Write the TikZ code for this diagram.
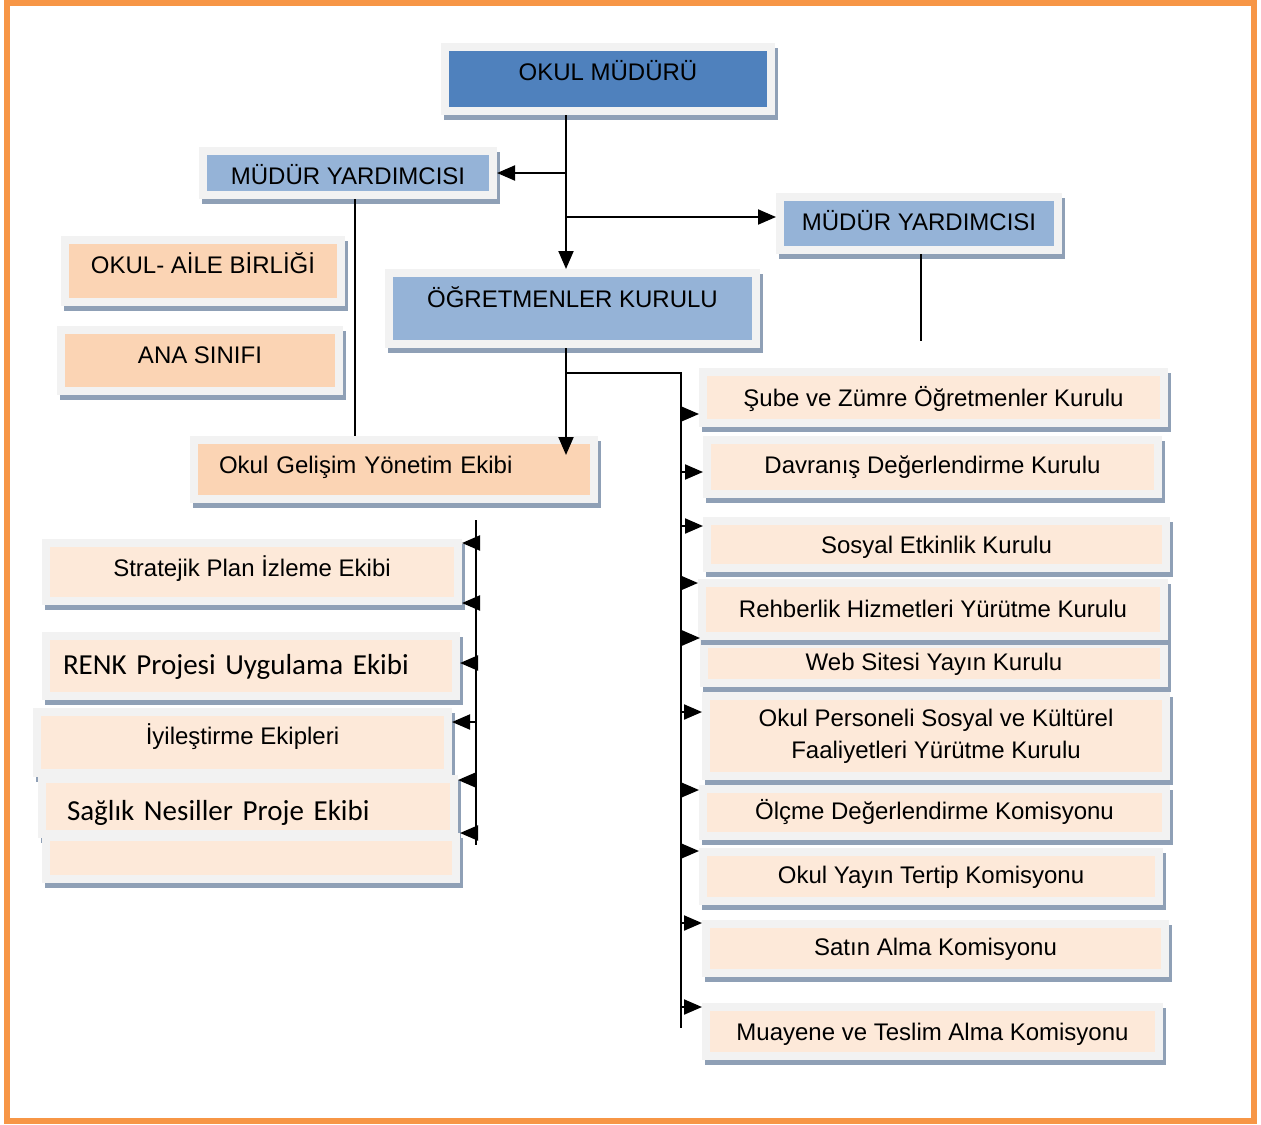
\documentclass[tikz,border=0pt]{standalone}
\usepackage{fontspec}
\setmainfont{Liberation Sans}
\newfontfamily\calibri{Carlito}
\usetikzlibrary{arrows.meta, shadows, calc}

\definecolor{framegray}{HTML}{F2F2F2}
\definecolor{shadowblue}{HTML}{8FA0B6}
\definecolor{headblue}{HTML}{4F81BD}
\definecolor{deputyblue}{HTML}{95B3D7}
\definecolor{peach}{HTML}{FBD4B4}
\definecolor{lightpeach}{HTML}{FDE9D9}
\definecolor{pageorange}{HTML}{F79646}

\begin{document}
\begin{tikzpicture}[
  x=0.5pt, y=-0.5pt,
  >={Triangle[length=9pt, width=7.5pt]},
  boxbase/.style={draw=framegray, line width=4pt, inner sep=0pt, align=center,
    font=\fontsize{12}{16}\selectfont, text height=8.6pt, text depth=0pt,
    drop shadow={shadow xshift=1.5pt, shadow yshift=-2.5pt, opacity=1, fill=shadowblue, draw=shadowblue}},
  headbox/.style={boxbase, fill=headblue},
  deputybox/.style={boxbase, fill=deputyblue},
  peachbox/.style={boxbase, fill=peach},
  teambox/.style={boxbase, fill=lightpeach},
  bigtext/.style={font=\calibri\fontsize{14.5}{18}\selectfont, text height=9.3pt},
  flow/.style={->, line width=1pt},
  link/.style={line width=1pt}
]
\useasboundingbox (0,0) rectangle (1261,1124);
\draw[pageorange, line width=3pt] (7,3) rectangle (1254,1121);

% top of the chart
\node[headbox, minimum width=163pt, minimum height=32pt, text depth=7pt] (boss) at (608,79) {OKUL MÜDÜRÜ};
\node[deputybox, minimum width=145pt, minimum height=22pt, text height=11pt] (myL) at (348,173) {MÜDÜR YARDIMCISI};
\node[deputybox, minimum width=139pt, minimum height=26.5pt, text depth=1.5pt] (myR) at (919,223.5) {MÜDÜR YARDIMCISI};
\node[deputybox, minimum width=183.5pt, minimum height=35.5pt, text depth=10pt] (ogr) at (572.5,308.5) {ÖĞRETMENLER KURULU};

\node[peachbox, minimum width=138pt, minimum height=31pt, text depth=6pt] (veli) at (203,271) {OKUL- AİLE BİRLİĞİ};
\node[peachbox, minimum width=139pt, minimum height=30.5pt, text depth=5.5pt] (ana) at (200,360.5) {ANA SINIFI};
\node[peachbox, minimum width=200pt, minimum height=29.5pt, text depth=4.5pt, text width=175pt, align=left] (ogye) at (394,469.5) {Okul Gelişim Yönetim Ekibi};

% left teams
\node[teambox, minimum width=206pt, minimum height=29pt, text depth=4pt] (strat) at (252,572) {Stratejik Plan İzleme Ekibi};
\node[teambox, bigtext, minimum width=205pt, minimum height=30pt, text depth=1pt, text width=188pt, align=left] (renk) at (251,666) {RENK Projesi Uygulama Ekibi};
\node[teambox, minimum width=205.5pt, minimum height=30.5pt, text depth=6.5pt] (iyi) at (242.5,742.5) {İyileştirme Ekipleri};
\node[teambox, bigtext, minimum width=206pt, minimum height=27.5pt, text height=13.8pt, text width=181pt, align=left] (sag) at (248,806.5) {Sağlık Nesiller Proje Ekibi};
\node[teambox, minimum width=205pt, minimum height=21pt] (bos) at (251,858) {};

% right committees
\node[teambox, minimum width=230.5pt, minimum height=25.5pt] (sube) at (933.5,397.5) {Şube ve Zümre Öğretmenler Kurulu};
\node[teambox, minimum width=225.5pt, minimum height=27pt, text depth=2pt] (davr) at (932.5,467) {Davranış Değerlendirme Kurulu};
\node[teambox, minimum width=229.5pt, minimum height=23.5pt] (sosyal) at (936.5,544.5) {Sosyal Etkinlik Kurulu};
\node[teambox, minimum width=230pt, minimum height=19.5pt, text depth=1.5pt] (web) at (934,663.5) {Web Sitesi Yayın Kurulu};
\node[teambox, minimum width=231pt, minimum height=26.5pt, text depth=0.5pt] (rehb) at (933,609.5) {Rehberlik Hizmetleri Yürütme Kurulu};
\node[teambox, minimum width=230pt, minimum height=40pt, text height={}, text depth={}] (pers) at (936,736) {Okul Personeli Sosyal ve Kültürel\\Faaliyetleri Yürütme Kurulu};
\node[teambox, minimum width=231.5pt, minimum height=23.5pt, text depth=1.5pt] (olcme) at (934.5,812.5) {Ölçme Değerlendirme Komisyonu};
\node[teambox, minimum width=228pt, minimum height=24.5pt, text depth=1.5pt] (yayin) at (931,876.5) {Okul Yayın Tertip Komisyonu};
\node[teambox, minimum width=229.5pt, minimum height=24.5pt, text depth=1.5pt] (satin) at (935.5,948.5) {Satın Alma Komisyonu};
\node[teambox, minimum width=226.5pt, minimum height=24.5pt] (muay) at (932.5,1031.5) {Muayene ve Teslim Alma Komisyonu};

\coordinate (stem) at (566,0);
\coordinate (rbus) at (681,373);
\coordinate (rbusend) at (681,1028);
\coordinate (lbus) at (476,520);
\coordinate (lbusend) at (476,845);
\coordinate (myRend) at (921,341);
\coordinate (myLfoot) at ([xshift=3.5pt]myL.south);

\draw[flow] (stem |- boss.south) -- (stem |- ogr.north);
\draw[flow] (stem |- myL.east) -- (myL.east);
\draw[flow] (stem |- 0,217) -- (myR.west |- 0,217);
\draw[flow] (stem |- ogr.south) -- (stem |- 0,455);
\draw[link] (stem |- rbus) -- (rbus) -- (rbusend);
\draw[link] (myLfoot) -- (myLfoot |- ogye.north);
\draw[line width=0.7pt] (myRend |- myR.south) -- (myRend);
\draw[link] (lbus) -- (lbusend);

\foreach \n/\y in {sube/414, davr/472, sosyal/526, rehb/583, web/638, pers/712, olcme/790, yayin/851, satin/923, muay/1007}
  \draw[flow] (rbus |- 0,\y) -- (\n.west |- 0,\y);
\foreach \n/\y in {strat/543, strat/603, renk/663, iyi/722, sag/780, bos/833}
  \draw[flow] (lbus |- 0,\y) -- (\n.east |- 0,\y);
\end{tikzpicture}
\end{document}
